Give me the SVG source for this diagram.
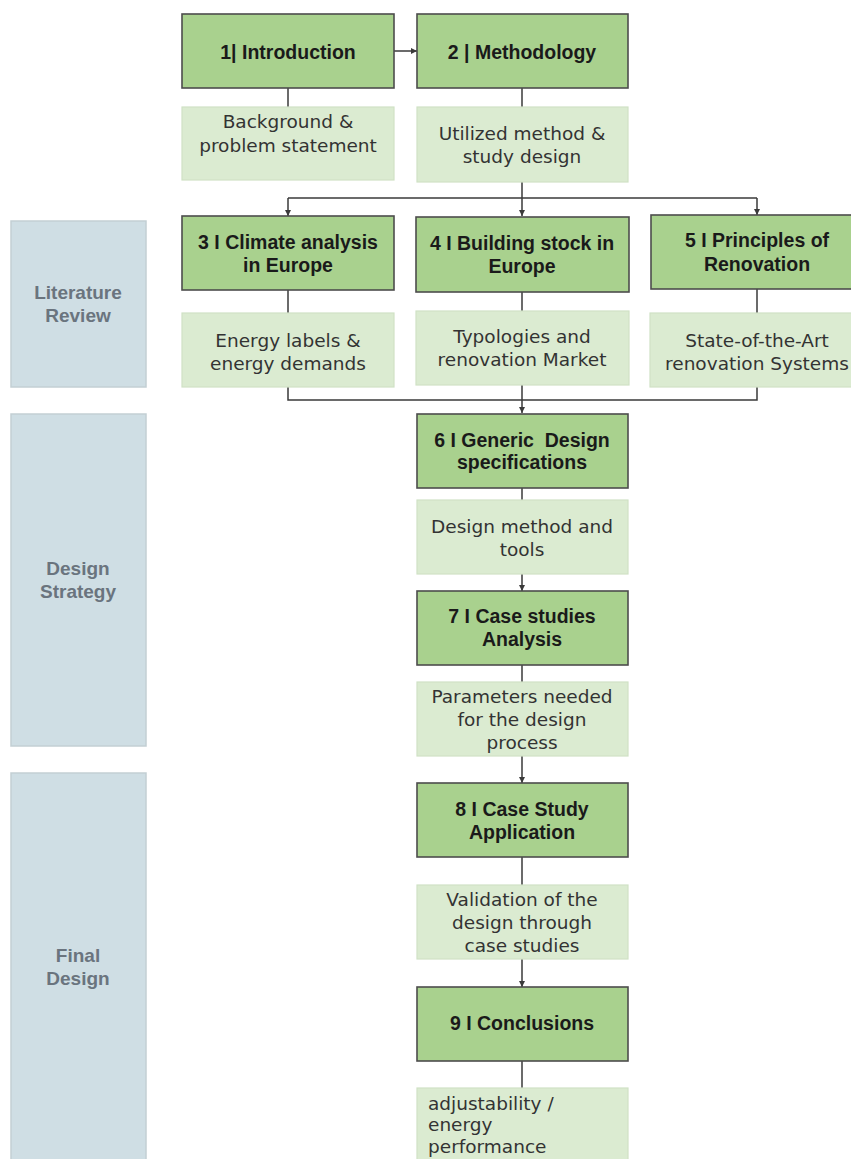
<svg xmlns="http://www.w3.org/2000/svg" width="851" height="1159" viewBox="0 0 851 1159">
<style>
.side{fill:#cfdee4;stroke:#c3cfd4;stroke-width:1.5}
.main{fill:#a9d18e;stroke:#4d4d4d;stroke-width:1.6}
.sub{fill:#dbebd1;stroke:#d0e2c5;stroke-width:1.2}
.st{font-family:"Liberation Sans",Arial,sans-serif;font-weight:bold;font-size:19px;fill:#6a747e;text-anchor:middle}
.mt{font-family:"Liberation Sans",Arial,sans-serif;font-weight:bold;font-size:19.5px;fill:#1a1a1a;text-anchor:middle}
.lt{font-family:"DejaVu Sans","Liberation Sans",sans-serif;font-size:18.5px;fill:#333333;text-anchor:middle}
.ll{font-family:"DejaVu Sans","Liberation Sans",sans-serif;font-size:18.5px;fill:#333333}
.cn{fill:none;stroke:#3a3a3a;stroke-width:1.5}
</style>
<defs>
<marker id="ah" viewBox="0 0 10 10" refX="10" refY="5" markerWidth="6" markerHeight="6" markerUnits="userSpaceOnUse" orient="auto">
<path d="M0,0 L10,5 L0,10 z" fill="#3a3a3a"/>
</marker>
</defs>
<rect width="851" height="1159" fill="#ffffff"/>

<g id="side-literature">
<rect class="side" x="11" y="221" width="135" height="166"/>
<text class="st" x="78" y="299">Literature</text>
<text class="st" x="78" y="322">Review</text>
</g>
<g id="side-design">
<rect class="side" x="11" y="414" width="135" height="332"/>
<text class="st" x="78" y="575">Design</text>
<text class="st" x="78" y="598">Strategy</text>
</g>
<g id="side-final">
<rect class="side" x="11" y="773" width="135" height="400"/>
<text class="st" x="78" y="962">Final</text>
<text class="st" x="78" y="985">Design</text>
</g>

<g id="connectors">
<path class="cn" d="M394,51 H417" marker-end="url(#ah)"/>
<path class="cn" d="M288,88 V107"/>
<path class="cn" d="M522,88 V107"/>
<path class="cn" d="M522,182 V216" marker-end="url(#ah)"/>
<path class="cn" d="M288,198 H757"/>
<path class="cn" d="M288,198 V216" marker-end="url(#ah)"/>
<path class="cn" d="M757,198 V215" marker-end="url(#ah)"/>
<path class="cn" d="M288,290 V313"/>
<path class="cn" d="M522,292 V311"/>
<path class="cn" d="M757,289 V313"/>
<path class="cn" d="M288,387 V400 H757 V387"/>
<path class="cn" d="M522,385 V413" marker-end="url(#ah)"/>
<path class="cn" d="M522,488 V500"/>
<path class="cn" d="M522,574 V591" marker-end="url(#ah)"/>
<path class="cn" d="M522,665 V682"/>
<path class="cn" d="M522,756 V783" marker-end="url(#ah)"/>
<path class="cn" d="M522,857 V885"/>
<path class="cn" d="M522,959 V987" marker-end="url(#ah)"/>
<path class="cn" d="M522,1061 V1088"/>
</g>

<g id="n1">
<rect class="main" x="182" y="14" width="212" height="74"/>
<text class="mt" x="288" y="59">1| Introduction</text>
</g>
<g id="n1-sub">
<rect class="sub" x="182" y="107" width="212" height="73"/>
<text class="lt" x="288" y="128">Background &amp;</text>
<text class="lt" x="288" y="152">problem statement</text>
</g>
<g id="n2">
<rect class="main" x="417" y="14" width="211" height="74"/>
<text class="mt" x="522" y="59">2 | Methodology</text>
</g>
<g id="n2-sub">
<rect class="sub" x="417" y="107" width="211" height="75"/>
<text class="lt" x="522" y="140">Utilized method &amp;</text>
<text class="lt" x="522" y="163">study design</text>
</g>

<g id="n3">
<rect class="main" x="182" y="216" width="212" height="74"/>
<text class="mt" x="288" y="249">3 I Climate analysis</text>
<text class="mt" x="288" y="272">in Europe</text>
</g>
<g id="n3-sub">
<rect class="sub" x="182" y="313" width="212" height="74"/>
<text class="lt" x="288" y="347">Energy labels &amp;</text>
<text class="lt" x="288" y="370">energy demands</text>
</g>
<g id="n4">
<rect class="main" x="416" y="217" width="213" height="75"/>
<text class="mt" x="522" y="250">4 I Building stock in</text>
<text class="mt" x="522" y="273">Europe</text>
</g>
<g id="n4-sub">
<rect class="sub" x="416" y="311" width="213" height="74"/>
<text class="lt" x="522" y="343">Typologies and</text>
<text class="lt" x="522" y="366">renovation Market</text>
</g>
<g id="n5">
<rect class="main" x="651" y="215" width="212" height="74"/>
<text class="mt" x="757" y="247">5 I Principles of</text>
<text class="mt" x="757" y="271">Renovation</text>
</g>
<g id="n5-sub">
<rect class="sub" x="650" y="313" width="213" height="74"/>
<text class="lt" x="757" y="347">State-of-the-Art</text>
<text class="lt" x="757" y="370">renovation Systems</text>
</g>

<g id="n6">
<rect class="main" x="417" y="414" width="211" height="74"/>
<text class="mt" x="522" y="447" xml:space="preserve">6 I Generic  Design</text>
<text class="mt" x="522" y="469">specifications</text>
</g>
<g id="n6-sub">
<rect class="sub" x="417" y="500" width="211" height="74"/>
<text class="lt" x="522" y="533">Design method and</text>
<text class="lt" x="522" y="556">tools</text>
</g>
<g id="n7">
<rect class="main" x="417" y="591" width="211" height="74"/>
<text class="mt" x="522" y="623">7 I Case studies</text>
<text class="mt" x="522" y="646">Analysis</text>
</g>
<g id="n7-sub">
<rect class="sub" x="417" y="682" width="211" height="74"/>
<text class="lt" x="522" y="703">Parameters needed</text>
<text class="lt" x="522" y="726">for the design</text>
<text class="lt" x="522" y="749">process</text>
</g>
<g id="n8">
<rect class="main" x="417" y="783" width="211" height="74"/>
<text class="mt" x="522" y="816">8 I Case Study</text>
<text class="mt" x="522" y="839">Application</text>
</g>
<g id="n8-sub">
<rect class="sub" x="417" y="885" width="211" height="74"/>
<text class="lt" x="522" y="906">Validation of the</text>
<text class="lt" x="522" y="929">design through</text>
<text class="lt" x="522" y="952">case studies</text>
</g>
<g id="n9">
<rect class="main" x="417" y="987" width="211" height="74"/>
<text class="mt" x="522" y="1030">9 I Conclusions</text>
</g>
<g id="n9-sub">
<rect class="sub" x="417" y="1088" width="211" height="90"/>
<text class="ll" x="428" y="1110">adjustability /</text>
<text class="ll" x="428" y="1131">energy</text>
<text class="ll" x="428" y="1153">performance</text>
</g>
</svg>
